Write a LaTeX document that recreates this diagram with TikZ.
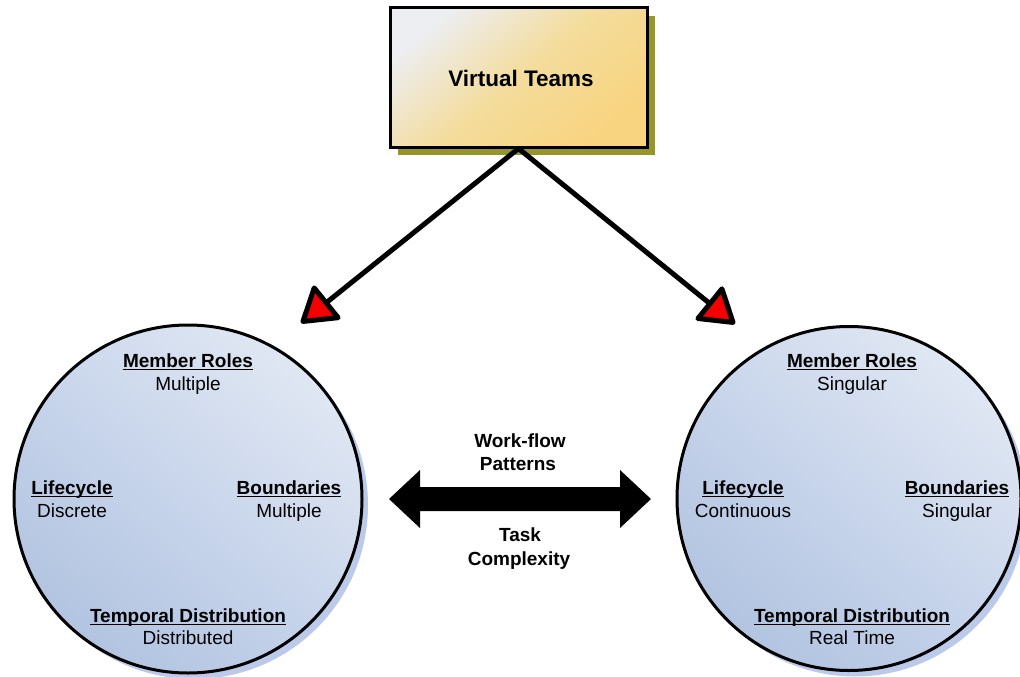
\documentclass[tikz,border=0pt]{standalone}
\usepackage{fontspec}
\setmainfont{Liberation Sans}
\usetikzlibrary{arrows.meta}

\definecolor{boxlight}{RGB}{236,238,242}
\definecolor{boxmid}{RGB}{244,220,156}
\definecolor{boxgold}{RGB}{248,212,128}
\definecolor{boxshadow}{RGB}{150,150,40}
\definecolor{circlight}{RGB}{224,231,243}
\definecolor{circmid}{RGB}{200,213,235}
\definecolor{circdark}{RGB}{178,196,225}
\definecolor{circshadow}{RGB}{188,202,234}
\definecolor{tipred}{RGB}{245,0,0}

% heading underline: a rule just below the baseline
\newsavebox\ulsave
\newcommand\ulined[1]{\sbox\ulsave{#1}\rlap{\rule[-3.4pt]{\wd\ulsave}{1.8pt}}\usebox\ulsave}

\begin{document}
\begin{tikzpicture}[x=1pt,y=-1pt,
  teambox/.style={draw=black, line width=3pt, inner sep=0pt,
    minimum width=257pt, minimum height=139pt,
    top color=boxlight, bottom color=boxgold, middle color=boxmid, shading angle=40},
  teamcircle/.style={circle, draw=black, line width=3pt, inner sep=0pt,
    top color=circlight, bottom color=circdark, middle color=circmid, shading angle=-40},
  conn/.style={line width=5pt, line join=miter,
    -{Triangle[length=37pt,width=46pt,fill=tipred,round]}},
  title/.style={font=\fontsize{22.5}{27}\selectfont\bfseries, anchor=base, inner sep=0pt},
  head/.style={font=\fontsize{19}{23}\selectfont\bfseries, anchor=base, inner sep=0pt},
  val/.style={font=\fontsize{19}{23}\selectfont, anchor=base, inner sep=0pt},
]
\useasboundingbox (0,0) rectangle (1020,677);

% drop shadows
\fill[boxshadow] (398,16) rectangle (655,155);
\fill[circshadow] (194,505) circle[radius=174];
\fill[circshadow] (855,504.5) circle[radius=172];

% top box
\node[teambox] (vt) at (518.5,77.5) {};
\node[title] (vtt) at (521,87) {Virtual Teams};

% the two circles
\node[teamcircle, minimum size=348pt] (lc) at (188,499) {};
\node[teamcircle, minimum size=344pt] (rc) at (849,498.5) {};

% connectors from the box
\coordinate (lt) at (301,323);
\coordinate (rt) at (735,324);
\draw[conn] (vt.south) -- (lt);
\draw[conn] (vt.south) -- (rt);

% double block arrow between the circles
\coordinate (da) at (520,499);
\fill[black] ([xshift=-131pt]da) -- ++(31,-29) -- ++(0,17) -- ++(200,0) -- ++(0,-17)
  -- ++(31,29) -- ++(-31,29) -- ++(0,-17) -- ++(-200,0) -- ++(0,17) -- cycle;

\node[head] (wf1) at (520,447) {Work-flow};
\node[head] (wf2) at (518,470) {Patterns};
\node[head] (tc1) at (520,541) {Task};
\node[head] (tc2) at (519,565) {Complexity};

% left circle labels
\node[head] (lmr) at (188,367) {\ulined{Member Roles}};
\node[val]  (lmrv) at (188,390) {Multiple};
\node[head] (llc) at (72,494) {\ulined{Lifecycle}};
\node[val]  (llcv) at (72,517) {Discrete};
\node[head] (lbd) at (289,494) {\ulined{Boundaries}};
\node[val]  (lbdv) at (289,517) {Multiple};
\node[head] (ltd) at (188,622) {\ulined{Temporal Distribution}};
\node[val]  (ltdv) at (188,644) {Distributed};

% right circle labels
\node[head] (rmr) at (852,367) {\ulined{Member Roles}};
\node[val]  (rmrv) at (852,390) {Singular};
\node[head] (rlc) at (743,494) {\ulined{Lifecycle}};
\node[val]  (rlcv) at (743,517) {Continuous};
\node[head] (rbd) at (957,494) {\ulined{Boundaries}};
\node[val]  (rbdv) at (957,517) {Singular};
\node[head] (rtd) at (852,622) {\ulined{Temporal Distribution}};
\node[val]  (rtdv) at (852,644) {Real Time};
\end{tikzpicture}
\end{document}
